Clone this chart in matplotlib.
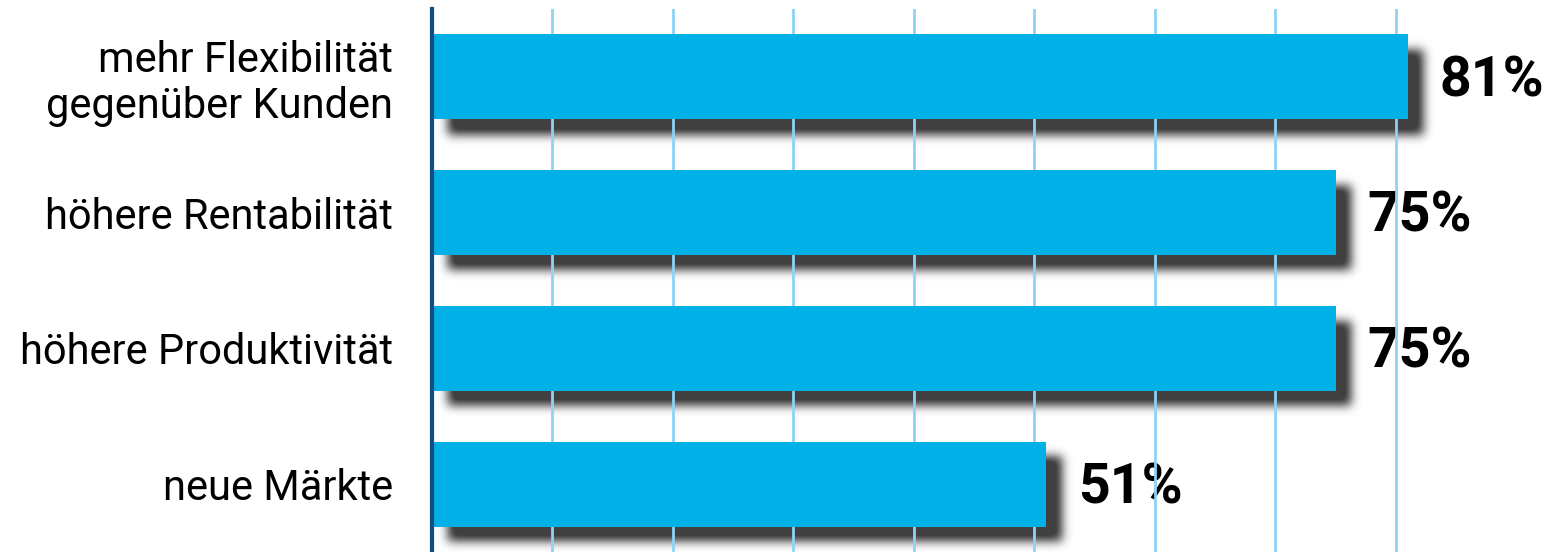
import numpy as np
import matplotlib
matplotlib.use("Agg")
import matplotlib.pyplot as plt

categories = ["mehr Flexibilität\ngegenüber Kunden", "höhere Rentabilität",
              "höhere Produktivität", "neue Märkte"]
values = [81, 75, 75, 51]
value_labels = ["81%", "75%", "75%", "51%"]

W, H, DPI = 1544, 552, 100
XMAX = 92.3
BAR_H = 0.625

fig = plt.figure(figsize=(W / DPI, H / DPI), dpi=DPI)
ax = fig.add_axes([432 / W, 0, 1 - 432 / W, 543 / H])
ax.set_xlim(0, XMAX)
ax.set_ylim(3.5, -0.5)

ypos = np.arange(len(categories))

# blurred drop shadow, built from the bar values
nx, ny = 1200, 600
gx = np.linspace(0, XMAX, nx)
gy = np.linspace(-0.5, 3.5, ny)
mask = np.zeros((ny, nx))
dx, dy = 1.3, 0.11
for y, v in zip(ypos, values):
    rows = (gy >= y - BAR_H / 2 + dy) & (gy <= y + BAR_H / 2 + dy)
    cols = (gx >= dx) & (gx <= v + dx)
    mask[np.ix_(rows, cols)] = 1.0

def blur(a, sigma, axis):
    r = int(3 * sigma) + 1
    k = np.exp(-0.5 * (np.arange(-r, r + 1) / sigma) ** 2)
    k /= k.sum()
    return np.apply_along_axis(lambda m: np.convolve(m, k, mode="same"), axis, a)

px_x = nx / (XMAX * 12.05)   # grid cells per pixel
px_y = ny / 543
mask = blur(mask, 5.0 * px_x, 1)
mask = blur(mask, 5.0 * px_y, 0)
rgba = np.zeros((ny, nx, 4))
rgba[..., 3] = np.clip(mask * 0.85, 0, 0.75)
ax.imshow(rgba, extent=(0, XMAX, 3.5, -0.5), origin="upper", aspect="auto",
          interpolation="bilinear", zorder=2.5)

ax.barh(ypos, values, height=BAR_H, color="#00B0E6", zorder=3)

for y, v, lab in zip(ypos, values, value_labels):
    ax.annotate(lab, xy=(v, y), xytext=(23, -3), textcoords="offset points",
                ha="left", va="center", fontsize=40, fontweight="bold",
                family="Roboto", color="black", zorder=1.5)

ax.set_xticks(np.arange(10, 90, 10))
ax.grid(axis="x", color="#8FD3F3", linewidth=2, zorder=2)
ax.set_axisbelow(False)
for line in ax.get_xgridlines():
    line.set_zorder(2)
ax.tick_params(axis="x", length=0, labelbottom=False)
ax.tick_params(axis="y", length=0, pad=28)
ax.set_yticks(ypos)
ax.set_yticklabels(categories, fontsize=30, family="Roboto", linespacing=1.15)
for s in ["top", "right", "bottom"]:
    ax.spines[s].set_visible(False)
ax.spines["left"].set_color("#0A4F86")
ax.spines["left"].set_linewidth(3)
ax.spines["left"].set_zorder(4)

fig.savefig("out.png", dpi=DPI)
